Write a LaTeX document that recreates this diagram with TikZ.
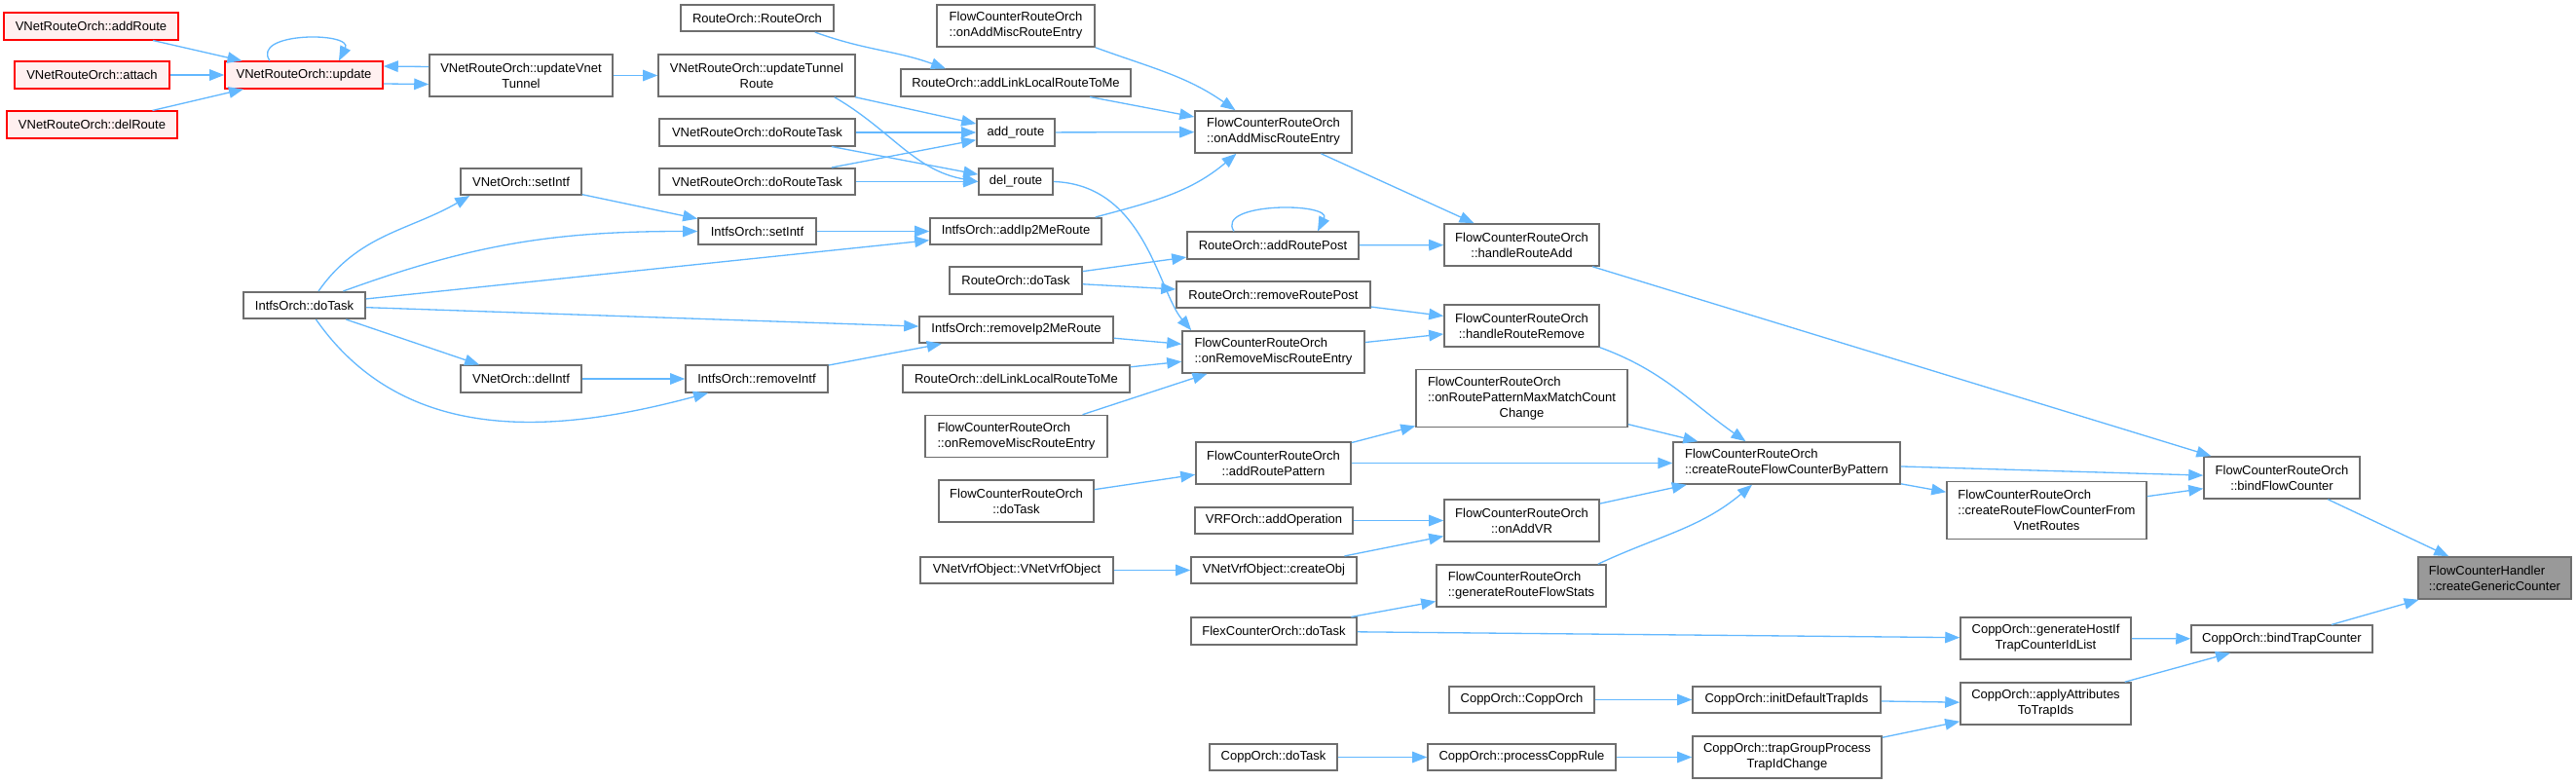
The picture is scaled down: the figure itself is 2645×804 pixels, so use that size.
\documentclass[tikz,border=0pt]{standalone}
\usepackage{fontspec}
\setmainfont{Liberation Sans}
\definecolor{EdgeBlue}{RGB}{99,184,255}
\definecolor{FrameGray}{RGB}{110,110,110}
\definecolor{TruncRed}{RGB}{255,0,0}
\definecolor{TruncPink}{RGB}{255,240,240}
\definecolor{CurGray}{RGB}{153,153,153}
\usetikzlibrary{arrows.meta}
\newcommand{\lpad}[2]{\rlap{#1}\phantom{#2}}

\begin{document}
\begin{tikzpicture}[x=0.02cm, y=-0.02cm,
  every node/.style={font=\fontsize{7.4}{9.1}\selectfont, align=center},
  fn/.style={draw=FrameGray, fill=white, line width=0.9pt, inner sep=1pt, minimum height=0.55cm},
  fntwo/.style={fn, minimum height=0.86cm},
  fnthree/.style={fn, minimum height=1.18cm},
  fnred/.style={fn, draw=TruncRed, fill=TruncPink},
  fncur/.style={fntwo, fill=CurGray},
  call/.style={draw=EdgeBlue, line width=0.75pt, -{Triangle[length=0.3cm, width=0.23cm]}}]
\useasboundingbox (0,0) rectangle (2645,804);

\node[fnred, minimum width=3.58cm] (addRouteV) at (93.5,27) {VNetRouteOrch::addRoute};
\node[fnred, minimum width=3.18cm] (attachV) at (94.5,77) {VNetRouteOrch::attach};
\node[fnred, minimum width=3.5cm] (delRouteV) at (94.5,128) {VNetRouteOrch::delRoute};
\node[fnred, minimum width=3.24cm] (updateV) at (312,77) {VNetRouteOrch::update};
\node[fntwo, minimum width=3.76cm] (updVnetTunnel) at (535,77.5) {VNetRouteOrch::updateVnet\\Tunnel};
\node[fn, minimum width=2.48cm] (vnetSetIntf) at (535,186.5) {VNetOrch::setIntf};
\node[fn, minimum width=2.5cm] (intfsDoTask) at (312.5,313.5) {IntfsOrch::doTask};
\node[fn, minimum width=2.48cm] (vnetDelIntf) at (535,389) {VNetOrch::delIntf};
\node[fn, minimum width=3.14cm] (routeCtor) at (777.5,18.5) {RouteOrch::RouteOrch};
\node[fntwo, minimum width=4.04cm] (updTunnelRoute) at (777,77.5) {VNetRouteOrch::updateTunnel\\Route};
\node[fn, minimum width=4.02cm] (doRouteTaskA) at (777.5,136) {VNetRouteOrch::doRouteTask};
\node[fn, minimum width=4.02cm] (doRouteTaskB) at (777.5,186.5) {VNetRouteOrch::doRouteTask};
\node[fn, minimum width=2.42cm] (intfsSetIntf) at (777.5,237.5) {IntfsOrch::setIntf};
\node[fn, minimum width=2.92cm] (intfsRemIntf) at (777,389) {IntfsOrch::removeIntf};
\node[fntwo, minimum width=3.24cm] (addMiscA) at (1043,26.5) {\lpad{FlowCounterRouteOrch}{::onAddMiscRouteEntry}\\::onAddMiscRouteEntry};
\node[fn, minimum width=4.72cm] (addLinkLocal) at (1043,85) {RouteOrch::addLinkLocalRouteToMe};
\node[fn, minimum width=1.6cm] (addRoute) at (1043,136) {add\_route};
\node[fn, minimum width=1.52cm] (delRoute) at (1043,186.5) {del\_route};
\node[fn, minimum width=3.52cm] (addIp2Me) at (1043,237.5) {IntfsOrch::addIp2MeRoute};
\node[fn, minimum width=2.72cm] (routeDoTask) at (1043,288) {RouteOrch::doTask};
\node[fn, minimum width=3.98cm] (remIp2Me) at (1043.5,338.5) {IntfsOrch::removeIp2MeRoute};
\node[fn, minimum width=4.66cm] (delLinkLocal) at (1043.5,389) {RouteOrch::delLinkLocalRouteToMe};
\node[fntwo, minimum width=3.74cm] (remMiscA) at (1043.5,448) {\lpad{FlowCounterRouteOrch}{::onRemoveMiscRouteEntry}\\::onRemoveMiscRouteEntry};
\node[fntwo, minimum width=3.18cm] (flowDoTask) at (1043.5,514.5) {FlowCounterRouteOrch\\::doTask};
\node[fn, minimum width=3.96cm] (vrfCtor) at (1044,585.5) {VNetVrfObject::VNetVrfObject};
\node[fntwo, minimum width=3.22cm] (addMisc) at (1307.5,135.5) {\lpad{FlowCounterRouteOrch}{::onAddMiscRouteEntry}\\::onAddMiscRouteEntry};
\node[fn, minimum width=3.52cm] (addRoutePost) at (1307,252) {RouteOrch::addRoutePost};
\node[fn, minimum width=3.98cm] (remRoutePost) at (1307.5,302.5) {RouteOrch::removeRoutePost};
\node[fntwo, minimum width=3.74cm] (remMisc) at (1307.5,361.5) {\lpad{FlowCounterRouteOrch}{::onRemoveMiscRouteEntry}\\::onRemoveMiscRouteEntry};
\node[fntwo, minimum width=3.18cm] (addPattern) at (1307.5,475.5) {FlowCounterRouteOrch\\::addRoutePattern};
\node[fn, minimum width=3.24cm] (vrfAddOp) at (1308,534.5) {VRFOrch::addOperation};
\node[fn, minimum width=3.4cm] (createObj) at (1308,585.5) {VNetVrfObject::createObj};
\node[fn, minimum width=3.4cm] (flexDoTask) at (1308,648) {FlexCounterOrch::doTask};
\node[fn, minimum width=2.62cm] (coppDoTask) at (1307.5,777.5) {CoppOrch::doTask};
\node[fntwo, minimum width=3.18cm] (handleAdd) at (1562.5,251.5) {FlowCounterRouteOrch\\::handleRouteAdd};
\node[fntwo, minimum width=3.18cm] (handleRemove) at (1562.5,334.5) {FlowCounterRouteOrch\\::handleRouteRemove};
\node[fnthree, minimum width=4.34cm] (maxMatch) at (1562.5,409) {\lpad{FlowCounterRouteOrch}{::onRoutePatternMaxMatchCount}\\::onRoutePatternMaxMatchCount\\Change};
\node[fntwo, minimum width=3.18cm] (onAddVR) at (1562.5,534.5) {FlowCounterRouteOrch\\::onAddVR};
\node[fntwo, minimum width=3.48cm] (genStats) at (1562,601.5) {\lpad{FlowCounterRouteOrch}{::generateRouteFlowStats}\\::generateRouteFlowStats};
\node[fn, minimum width=2.98cm] (coppCtor) at (1562.5,718.5) {CoppOrch::CoppOrch};
\node[fn, minimum width=3.86cm] (coppRule) at (1562.5,777.5) {CoppOrch::processCoppRule};
\node[fntwo, minimum width=4.66cm] (byPattern) at (1834.5,475.5) {\lpad{FlowCounterRouteOrch}{::createRouteFlowCounterByPattern}\\::createRouteFlowCounterByPattern};
\node[fn, minimum width=3.86cm] (initTrapIds) at (1834.5,718.5) {CoppOrch::initDefaultTrapIds};
\node[fntwo, minimum width=3.88cm] (trapGroup) at (1835,777.5) {CoppOrch::trapGroupProcess\\TrapIdChange};
\node[fnthree, minimum width=4.1cm] (fromVnet) at (2101.5,524) {\lpad{FlowCounterRouteOrch}{::createRouteFlowCounterFrom}\\::createRouteFlowCounterFrom\\VnetRoutes};
\node[fntwo, minimum width=3.5cm] (hostIfList) at (2100.5,655.5) {CoppOrch::generateHostIf\\TrapCounterIdList};
\node[fntwo, minimum width=3.5cm] (applyAttr) at (2100.5,722.5) {CoppOrch::applyAttributes\\ToTrapIds};
\node[fntwo, minimum width=3.2cm] (bindFlow) at (2343,490.5) {FlowCounterRouteOrch\\::bindFlowCounter};
\node[fn, minimum width=3.72cm] (bindTrap) at (2343,656) {CoppOrch::bindTrapCounter};
\node[fncur, minimum width=3.14cm] (genericCounter) at (2561.5,593.5) {\lpad{FlowCounterHandler}{::createGenericCounter}\\::createGenericCounter};

\draw[call] (addRouteV) -- (updateV);
\draw[call] (attachV) -- (updateV);
\draw[call] (delRouteV) -- (updateV);
\draw[call] ([xshift=-0.7cm]updateV.north) .. controls +(-20,-30) and +(15,-30) .. ([xshift=0.72cm]updateV.north);
\draw[call] ([yshift=-0.18cm]updateV.east) -- ([yshift=-0.18cm]updVnetTunnel.west);
\draw[call] ([yshift=0.18cm]updVnetTunnel.west) -- ([yshift=0.18cm]updateV.east);
\draw[call] (updVnetTunnel) -- (updTunnelRoute);
\draw[call] (updTunnelRoute) -- (addRoute);
\draw[call] ([xshift=-0.44cm]updTunnelRoute.south east) to[out=-30, in=170] (delRoute.west);
\draw[call] ([xshift=-0.4cm]routeCtor.south east) to[out=-20, in=160] ([xshift=-1.44cm]addLinkLocal.north);
\draw[call] (doRouteTaskA) -- (addRoute);
\draw[call] (doRouteTaskA) -- (delRoute);
\draw[call] (doRouteTaskB) -- (addRoute);
\draw[call] (doRouteTaskB) -- (delRoute);
\draw[call] (addMiscA.south east) to[out=-20, in=145] ([xshift=-0.78cm]addMisc.north);
\draw[call] (addLinkLocal) -- (addMisc);
\draw[call] (addRoute) -- (addMisc);
\draw[call] ([xshift=-0.14cm]addIp2Me.north east) to[out=15, in=-140] ([xshift=-0.76cm]addMisc.south);
\draw[call] (delRoute.east) .. controls +(94,3) and +(-34,-40) .. ([xshift=0.2cm]remMisc.north west);
\draw[call] (intfsDoTask.45) to[out=55, in=-150] ([xshift=0.2cm]vnetSetIntf.south west);
\draw[call] (intfsDoTask.20) to[out=20, in=180] (intfsSetIntf.west);
\draw[call] (intfsDoTask) -- (addIp2Me);
\draw[call] (intfsDoTask) -- (remIp2Me);
\draw[call] (intfsDoTask) -- (vnetDelIntf);
\draw[call] ([xshift=0.24cm]intfsDoTask.south) to[out=-55, in=-165] ([xshift=-1cm]intfsRemIntf.south);
\draw[call] (vnetSetIntf) -- (intfsSetIntf);
\draw[call] (intfsSetIntf) -- (addIp2Me);
\draw[call] (vnetDelIntf) -- (intfsRemIntf);
\draw[call] (intfsRemIntf) -- (remIp2Me);
\draw[call] (routeDoTask) -- (addRoutePost);
\draw[call] (routeDoTask) -- (remRoutePost);
\draw[call] (remIp2Me) -- (remMisc);
\draw[call] (delLinkLocal) -- (remMisc);
\draw[call] (remMiscA) -- (remMisc);
\draw[call] ([xshift=-0.8cm]addRoutePost.north) .. controls +(-20,-30) and +(15,-30) .. ([xshift=0.92cm]addRoutePost.north);
\draw[call] (addRoutePost) -- (handleAdd);
\draw[call] (addMisc) -- (handleAdd);
\draw[call] (remRoutePost) -- (handleRemove);
\draw[call] (remMisc) -- (handleRemove);
\draw[call] (handleAdd) -- (bindFlow);
\draw[call] (handleRemove.south east) to[out=-20, in=145] ([xshift=-0.84cm]byPattern.north);
\draw[call] (maxMatch) -- (byPattern);
\draw[call] (addPattern) -- (maxMatch);
\draw[call] (addPattern) -- (byPattern);
\draw[call] (flowDoTask) -- (addPattern);
\draw[call] (vrfAddOp) -- (onAddVR);
\draw[call] (createObj) -- (onAddVR);
\draw[call] (vrfCtor) -- (createObj);
\draw[call] (onAddVR) -- (byPattern);
\draw[call] ([xshift=-0.18cm]genStats.north east) to[out=25, in=-140] ([xshift=-0.71cm]byPattern.south);
\draw[call] (flexDoTask) -- (genStats);
\draw[call] (flexDoTask) -- (hostIfList);
\draw[call] (byPattern) -- (bindFlow);
\draw[call] (byPattern) -- (fromVnet);
\draw[call] (fromVnet) -- (bindFlow);
\draw[call] (bindFlow) -- (genericCounter);
\draw[call] (bindTrap) -- (genericCounter);
\draw[call] (hostIfList) -- (bindTrap);
\draw[call] (applyAttr) -- (bindTrap);
\draw[call] (coppCtor) -- (initTrapIds);
\draw[call] (initTrapIds) -- (applyAttr);
\draw[call] (trapGroup) -- (applyAttr);
\draw[call] (coppDoTask) -- (coppRule);
\draw[call] (coppRule) -- (trapGroup);
\end{tikzpicture}
\end{document}
